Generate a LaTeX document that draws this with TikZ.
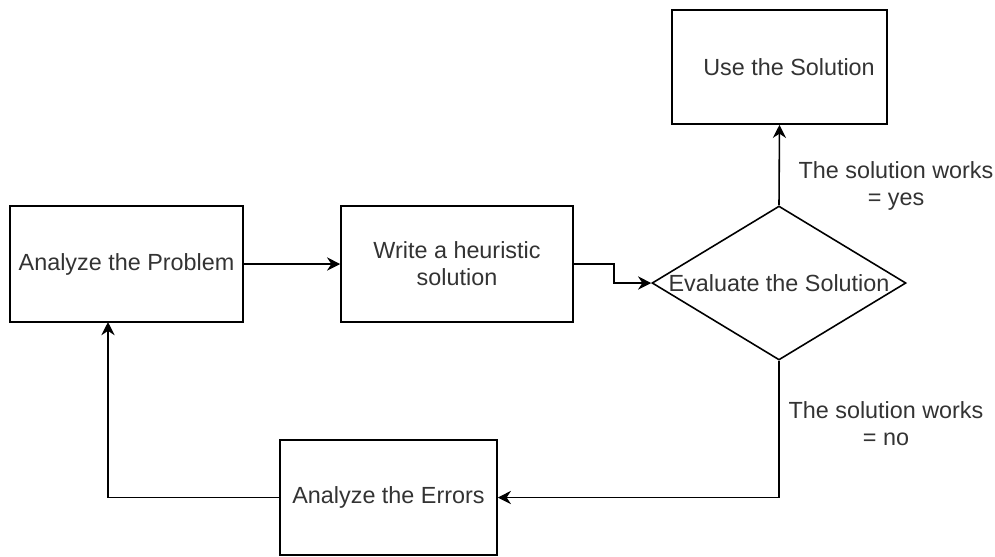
\documentclass[tikz,border=0pt]{standalone}
\usepackage{fontspec}
\setmainfont{Liberation Sans}
\usepackage{tikz}
\usetikzlibrary{arrows.meta,shapes.geometric}

\definecolor{txtgray}{HTML}{333333}

\begin{document}
\begin{tikzpicture}[x=0.02cm, y=-0.02cm,
    font=\fontsize{13.3}{15.5}\selectfont,
    box/.style={draw, line width=0.9pt, text=txtgray, align=center, inner sep=0pt},
    decision/.style={draw, diamond, line width=0.9pt, inner sep=0pt, aspect=1.65,
        minimum width=5.08cm, minimum height=3.08cm},
    lbl/.style={text=txtgray, align=center, inner sep=0pt},
    flow/.style={line width=0.9pt, -{Stealth[length=7.5pt, width=7.5pt]}}]
    \useasboundingbox (0,0) rectangle (995,556);

    % boxes of the loop
    \node [box, minimum width=4.66cm, minimum height=2.32cm] (prob) at (126.5,264) {Analyze the Problem};
    \node [box, minimum width=4.64cm, minimum height=2.32cm] (heur) at (457,264) {Write a heuristic\\solution};
    \node [decision, label={[lbl]center:Evaluate the Solution}] (eval) at (779,283) {};
    \node [box, minimum width=4.30cm, minimum height=2.28cm,
        label={[lbl, xshift=0.19cm]center:Use the Solution}] (use) at (779.5,67) {};
    \node [box, minimum width=4.34cm, minimum height=2.30cm] (err) at (388.5,497.5) {Analyze the Errors};

    % branch labels
    \node [lbl] (yeslbl) at (896,186) {The solution works\\= yes};
    \node [lbl] (nolbl) at (886,424) {The solution works\\= no};

    \coordinate (probin) at (108,322);

    % connectors
    \draw [flow] (prob) -- (heur);
    \draw [flow] (heur.east) -- ++(40,0) |- (eval.west);
    \draw [flow] (eval.north) -- (use.south);
    \draw [flow] (eval.south) |- (err.east);
    \draw [flow] (err.west) -| (probin);
\end{tikzpicture}
\end{document}
